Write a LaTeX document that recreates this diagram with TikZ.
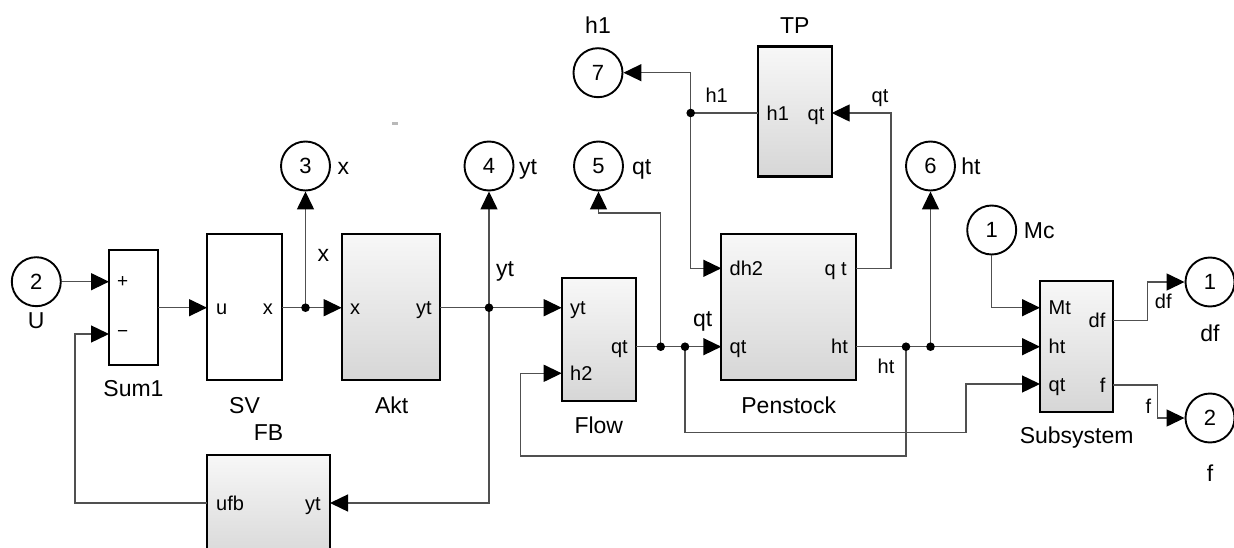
\documentclass[tikz,border=0pt]{standalone}
\usepackage{fontspec}
\setmainfont{Liberation Sans}
\usetikzlibrary{arrows.meta}
\definecolor{wirec}{HTML}{505050}
\begin{document}
\begin{tikzpicture}[x=1pt,y=-1pt,
  blk/.style={draw=black, line width=2.4pt, inner sep=0pt, fill=white},
  shd/.style={draw=black, line width=2.4pt, inner sep=0pt, top color=white!97!black, bottom color=white!84!black},
  port/.style={circle, draw=black, line width=1.9pt, minimum size=49pt, inner sep=0pt, fill=white,
     font=\fontsize{22}{22}\selectfont, text height=15.8pt, text depth=0pt},
  wire/.style={draw=wirec, line width=1.4pt},
  arr/.style={draw=wirec, line width=1.4pt, -{Triangle[length=18pt,width=17pt,color=black]}},
  jdot/.style={circle, fill=black, minimum size=8.6pt, inner sep=0pt},
  plab/.style={font=\fontsize{20}{20}\selectfont, inner sep=0pt, text height=14.3pt, text depth=0pt},
  slab/.style={font=\fontsize{19}{19}\selectfont, inner sep=0pt},
  bname/.style={font=\fontsize{23}{23}\selectfont, inner sep=0pt, text height=16.5pt, text depth=0pt},
]
\clip (0,0) rectangle (1234,548);
\fill[white] (0,0) rectangle (1234,548);
\fill[gray!55] (392,122.5) rectangle (398,125.5);

% blocks
\node[blk, minimum width=49pt, minimum height=115pt] (sum) at (133.5,307.5) {};
\node[blk, minimum width=75pt, minimum height=146pt] (sv) at (244.5,307) {};
\node[shd, minimum width=98pt, minimum height=146pt] (akt) at (390.8,307) {};
\node[shd, minimum width=123pt, minimum height=110pt] (fb) at (268.5,510) {};
\node[shd, minimum width=74pt, minimum height=123pt] (flow) at (598.8,339.7) {};
\node[shd, minimum width=135pt, minimum height=146pt] (pen) at (788.7,307) {};
\node[shd, minimum width=74pt, minimum height=130pt] (tp) at (794.7,111.7) {};
\node[shd, minimum width=73pt, minimum height=131pt] (sub) at (1076.7,346.2) {};

% ports
\node[port] (in2) at (36.3,281.7) {2};
\node[port] (out3) at (305.5,166) {3};
\node[port] (out4) at (489,166) {4};
\node[port] (out5) at (598.5,166) {5};
\node[port] (out7) at (598,72.7) {7};
\node[port] (out6) at (930.5,166) {6};
\node[port] (in1) at (991.7,230) {1};
\node[port] (out1) at (1210,282) {1};
\node[port] (out2) at (1210,418) {2};

% port coordinates
\coordinate (sumi1) at (109,281.7);
\coordinate (sumi2) at (109,334);
\coordinate (sumo) at (158,307.7);
\coordinate (svi) at (207,307.7);
\coordinate (svo) at (282,307.7);
\coordinate (akti) at (341.7,307.7);
\coordinate (akto) at (440,307.7);
\coordinate (fbi) at (330,503);
\coordinate (fbo) at (207,503);
\coordinate (flowi1) at (561.7,307.7);
\coordinate (flowi2) at (561.7,373.3);
\coordinate (flowo) at (636,346.7);
\coordinate (peni1) at (721.3,268.3);
\coordinate (peni2) at (721.3,346.7);
\coordinate (peno1) at (856,268.3);
\coordinate (peno2) at (856,346.7);
\coordinate (tpi) at (831.7,113);
\coordinate (tpo) at (757.7,113);
\coordinate (subi1) at (1040,307.7);
\coordinate (subi2) at (1040,346.7);
\coordinate (subi3) at (1040,384);
\coordinate (subo1) at (1113.3,320.7);
\coordinate (subo2) at (1113.3,385);
% junctions
\coordinate (j1) at (305.5,307.7);
\coordinate (j2) at (489,307.7);
\coordinate (j3) at (660.7,346.7);
\coordinate (j4) at (685,346.7);
\coordinate (j5) at (906,346.7);
\coordinate (j6) at (930.5,346.7);
\coordinate (j7) at (690.7,113);

% wires
\draw[arr] (in2) -- (sumi1);
\draw[arr] (fbo) -- (75,503) -- (75,334) -- (sumi2);
\draw[arr] (sumo) -- (svi);
\draw[arr] (svo) -- (akti);
\draw[arr] (j1) -- (out3);
\draw[arr] (akto) -- (flowi1);
\draw[arr] (j2) -- (out4);
\draw[arr] (j2) |- (fbi);
\draw[arr] (flowo) -- (peni2);
\draw[arr] (j3) -- (660.7,213) -| (out5);
\draw[arr] (j4) -- (685,432.3) -| (966,384) -- (subi3);
\draw[arr] (peno2) -- (subi2);
\draw[arr] (j6) -- (out6);
\draw[arr] (j5) |- (520.7,456) |- (flowi2);
\draw[arr] (peno1) -| (891,113) -- (tpi);
\draw[wire] (tpo) -- (j7);
\draw[arr] (j7) |- (out7);
\draw[arr] (j7) |- (peni1);
\draw[arr] (in1) |- (subi1);
\draw[arr] (subo1) -| (1147.7,282) -- (out1);
\draw[arr] (subo2) -| (1157.3,418) -- (out2);

% junction dots
\node[jdot] (d1) at (j1) {};
\node[jdot] (d2) at (j2) {};
\node[jdot] (d3) at (j3) {};
\node[jdot] (d4) at (j4) {};
\node[jdot] (d5) at (j5) {};
\node[jdot] (d6) at (j6) {};
\node[jdot] (d7) at (j7) {};

% block names
\node[bname] (nsum) at (133.5,388) {Sum1};
\node[bname] (nsv) at (244.5,405) {SV};
\node[bname] (nakt) at (391.7,405) {Akt};
\node[bname] (nfb) at (268.5,432) {FB};
\node[bname] (nflow) at (598.8,425) {Flow};
\node[bname] (npen) at (788.7,405) {Penstock};
\node[bname] (ntp) at (794.7,25) {TP};
\node[bname] (nsub) at (1076.7,435) {Subsystem};

% port names
\node[bname] (lU) at (36.3,320) {U};
\node[bname] (lx3) at (343.3,166.7) {x};
\node[bname] (lyt4) at (528,166.7) {yt};
\node[bname] (lqt5) at (641.7,166.7) {qt};
\node[bname] (lht6) at (971,166.7) {ht};
\node[bname] (lh17) at (598,25) {h1};
\node[bname] (lMc) at (1039.3,230.7) {Mc};
\node[bname] (ldf1) at (1210,333.3) {df};
\node[bname] (lf2) at (1210,473.3) {f};

% sum signs
\node[slab] (splus) at (122.7,281.7) {+};
\node[slab] (sminus) at (122.7,334) {−};

% block port labels
\node[plab, anchor=west] (p1) at (216,307.7) {u};
\node[plab, anchor=east] (p2) at (273,307.7) {x};
\node[plab, anchor=west] (p3) at (350,307.7) {x};
\node[plab, anchor=east] (p4) at (432,307.7) {yt};
\node[plab, anchor=west] (p5) at (216,503) {ufb};
\node[plab, anchor=east] (p6) at (321,503) {yt};
\node[plab, anchor=west] (p7) at (570,307.7) {yt};
\node[plab, anchor=west] (p8) at (570,373.3) {h2};
\node[plab, anchor=east] (p9) at (628,346.7) {qt};
\node[plab, anchor=west] (p10) at (729.5,268.3) {dh2};
\node[plab, anchor=east] (p11) at (847,268.3) {q t};
\node[plab, anchor=west] (p12) at (729.5,346.7) {qt};
\node[plab, anchor=east] (p13) at (848,346.7) {ht};
\node[plab, anchor=west] (p14) at (766.5,113) {h1};
\node[plab, anchor=east] (p15) at (824.5,113) {qt};
\node[plab, anchor=west] (p16) at (1048.5,307.7) {Mt};
\node[plab, anchor=west] (p17) at (1048.5,346.7) {ht};
\node[plab, anchor=west] (p18) at (1048.5,384) {qt};
\node[plab, anchor=east] (p19) at (1105.5,320.7) {df};
\node[plab, anchor=east] (p20) at (1105.5,385) {f};

% signal labels
\node[bname] (s1) at (323.3,253) {x};
\node[bname] (s2) at (505,268.3) {yt};
\node[plab] (s3) at (716.7,95) {h1};
\node[plab] (s4) at (880,95) {qt};
\node[bname] (s5) at (702.7,318) {qt};
\node[plab] (s6) at (886,366.7) {ht};
\node[plab] (s7) at (1163.3,301.7) {df};
\node[plab] (s8) at (1148.3,406.7) {f};
\end{tikzpicture}
\end{document}
